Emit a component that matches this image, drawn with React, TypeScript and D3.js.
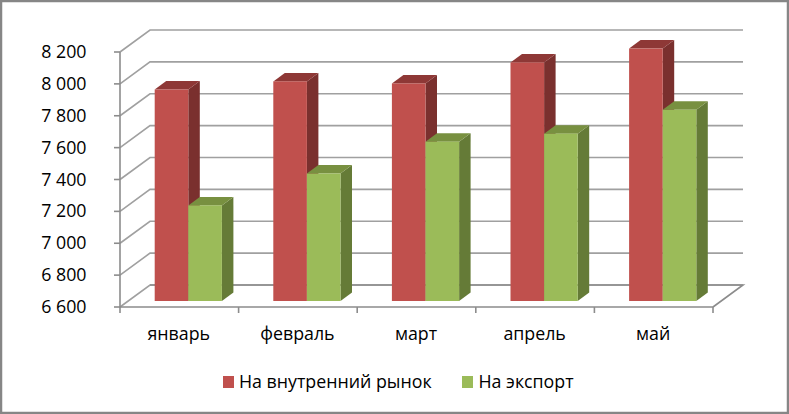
import React from "react";
import * as d3 from "d3";

const categories = ["январь", "февраль", "март", "апрель", "май"];
const domesticValues = [7927, 7978, 7965, 8097, 8184];
const exportValues = [7200, 7400, 7600, 7650, 7800];
const tickValues = [6600, 6800, 7000, 7200, 7400, 7600, 7800, 8000, 8200];
const seriesNames = ["На внутренний рынок", "На экспорт"];

const W = 789, H = 414;
const x0 = 120, x1 = 713, yBottom = 307, yTop = 52;
const depthX = 30, depthY = 22;
const barOffX = 9, barOffY = 6, barDepthX = 11.5, barDepthY = 8.5;
const FONT = "'Open Sans', sans-serif";
const FS = 17.8;

const xScale = d3.scaleBand<string>().domain(categories).range([x0, x1]);
const yScale = d3.scaleLinear().domain([6600, 8200]).range([yBottom, yTop]);
const fmt = (v: number) => d3.format(",")(v).replace(",", " ");

const palette = [
  { front: "#C0504D", side: "#7A302E", top: "#8E3836" },
  { front: "#9BBB59", side: "#657B37", top: "#789040" },
];

function Bar({ x, w, v, c }: { x: number; w: number; v: number; c: typeof palette[0] }) {
  const yT = yScale(v) - barOffY;
  const yB = yBottom - barOffY;
  const r = x + w;
  return (
    <g>
      <path d={`M${r},${yT}L${r + barDepthX},${yT - barDepthY}L${r + barDepthX},${yB - barDepthY}L${r},${yB}Z`} fill={c.side} />
      <path d={`M${x},${yT}L${x + barDepthX},${yT - barDepthY}L${r + barDepthX},${yT - barDepthY}L${r},${yT}Z`} fill={c.top} />
      <rect x={x} y={yT} width={w} height={yB - yT} fill={c.front} />
    </g>
  );
}

export default function App() {
  const bw = 33.6;
  return (
    <svg width={W} height={H} style={{ position: "absolute", left: 0, top: 0, background: "#fff" }} fontFamily={FONT}>
      <rect x={1} y={1} width={W - 2} height={H - 2} fill="#fff" stroke="#868686" strokeWidth={2.5} />
      {tickValues.map((t) => (
        <path key={t} d={`M${x0},${yScale(t)}L${x0 + depthX},${yScale(t) - depthY}L${x1 + depthX},${yScale(t) - depthY}`} fill="none" stroke="#A0A0A0" strokeWidth={1.6} />
      ))}
      <path d={`M${x0 + depthX},${yBottom - depthY}L${x1 + depthX},${yBottom - depthY}L${x1},${yBottom}`} fill="none" stroke="#8C8C8C" strokeWidth={1.6} />
      <path d={`M${x0},${yTop}L${x0},${yBottom}L${x1},${yBottom}`} fill="none" stroke="#8C8C8C" strokeWidth={1.6} />
      {tickValues.map((t) => (
        <g key={t}>
          <line x1={x0 - 6} x2={x0} y1={yScale(t)} y2={yScale(t)} stroke="#8C8C8C" strokeWidth={1.6} />
          <text x={86.5} y={yScale(t) + 6} textAnchor="end" fontSize={FS} fill="#000">{fmt(t)}</text>
        </g>
      ))}
      {[...categories.map((c) => xScale(c)!), x1].map((x, i) => (
        <line key={i} x1={x} x2={x} y1={yBottom} y2={yBottom + 6} stroke="#8C8C8C" strokeWidth={1.6} />
      ))}
      {categories.map((c, i) => {
        const cx = xScale(c)! + xScale.bandwidth() / 2 + barOffX;
        return (
          <g key={c}>
            <Bar x={cx - bw} w={bw} v={domesticValues[i]} c={palette[0]} />
            <Bar x={cx} w={bw} v={exportValues[i]} c={palette[1]} />
          </g>
        );
      })}
      {categories.map((c) => (
        <text key={c} x={xScale(c)! + xScale.bandwidth() / 2 - 0.5} y={340} textAnchor="middle" fontSize={FS} fill="#000">{c}</text>
      ))}
      <rect x={223} y={376} width={11} height={12} fill={palette[0].front} />
      <text x={239} y={388} fontSize={FS} fill="#000">{seriesNames[0]}</text>
      <rect x={462} y={376} width={11} height={12} fill={palette[1].front} />
      <text x={478.5} y={388} fontSize={FS} fill="#000">{seriesNames[1]}</text>
    </svg>
  );
}
